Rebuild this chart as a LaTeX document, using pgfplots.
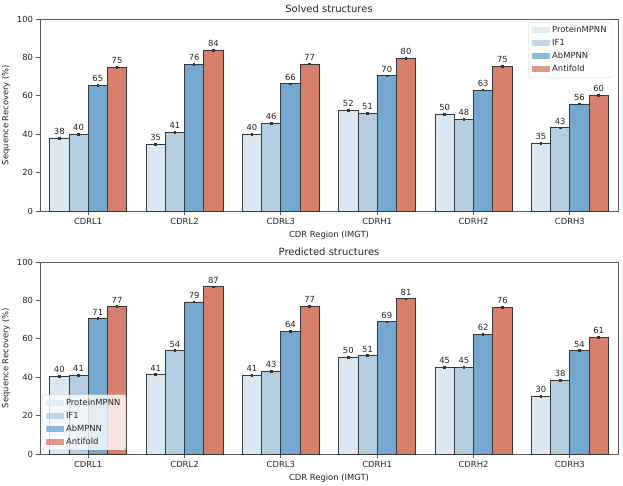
\documentclass[border=0pt]{standalone}
\usepackage{fontspec}
\setmainfont{DejaVu Sans}
\usepackage{pgfplots}
\pgfplotsset{compat=1.18}
\usepackage{pgfplotstable}

\definecolor{cProt}{HTML}{DBE7F1}
\definecolor{cIF}{HTML}{B3CDE1}
\definecolor{cAb}{HTML}{74A9CF}
\definecolor{cAnti}{HTML}{D6806B}
\definecolor{axgray}{HTML}{5A5A5A}
\definecolor{txt}{HTML}{262626}

% x: 0=CDRL1 ... 5=CDRH3
\pgfplotstableread{
x  prot  protE  if    ifE  ab    abE  anti  antiE
0  37.9  0.4    39.9  0.4  65.4  0.4  74.8  0.4
1  34.8  0.4    40.9  0.5  76.3  0.4  83.6  0.4
2  40.0  0.4    45.6  0.4  66.3  0.4  76.6  0.4
3  52.3  0.4    50.7  0.4  70.4  0.4  79.6  0.4
4  50.2  0.4    47.8  0.4  63.0  0.4  75.4  0.4
5  35.2  0.5    43.4  0.4  55.8  0.4  60.3  0.4
}\solved

\pgfplotstableread{
x  prot  protE  if    ifE  ab    abE  anti  antiE
0  40.4  0.5    41.0  0.5  70.5  0.5  76.7  0.5
1  41.3  0.5    53.8  0.5  79.2  0.5  87.1  0.4
2  40.9  0.5    43.2  0.5  63.8  0.5  77.0  0.5
3  50.4  0.5    51.2  0.5  68.9  0.4  80.9  0.4
4  45.0  0.4    45.0  0.4  62.2  0.4  76.3  0.4
5  30.0  0.4    38.2  0.4  53.8  0.5  60.6  0.4
}\predicted

% one category = 578pt/6 = 96.33pt, a bar = 0.2 of it
\pgfplotsset{
  /pgf/number format/assume math mode=true,
  recbar/.style={
    draw=black!78, line width=0.7pt,
    error bars/y dir=both, error bars/y explicit,
    error bars/error bar style={black!80, line width=1pt},
    error bars/error mark options={rotate=90, mark size=1.3pt, black!80, line width=0.8pt},
  },
  panel/.style={
    scale only axis, width=578pt, height=192pt,
    ybar=0pt, bar width=19.27pt,
    nodes near coords={\pgfmathprintnumber[fixed,precision=0]{\pgfplotspointmeta}},
    nodes near coords style={font=\fontsize{8.4}{10}\selectfont, text=txt, inner sep=2pt, yshift=1.2pt},
    xmin=-0.5, xmax=5.5, ymin=0, ymax=100,
    xtick={0,...,5},
    xticklabels={CDRL1,CDRL2,CDRL3,CDRH1,CDRH2,CDRH3},
    ytick={0,20,...,100},
    tick align=outside, tick pos=left,
    axis line style={axgray, line width=0.9pt},
    major tick style={axgray, line width=0.8pt},
    major tick length=3.5pt,
    tick label style={font=\fontsize{8.4}{10}\selectfont, text=txt},
    label style={font=\fontsize{8.4}{10}\selectfont, text=txt},
    title style={font=\fontsize{10}{12}\selectfont, text=txt, yshift=-3.5pt},
    xlabel={CDR Region (IMGT)},
    ylabel={Sequence Recovery (\%)},
    legend image code/.code={\fill[#1, draw=none, sharp corners] (0pt,-3pt) rectangle (18pt,3pt);},
    legend style={draw=black!20, fill=white, fill opacity=0.8, text opacity=1,
      rounded corners=2pt, font=\fontsize{8.4}{10}\selectfont, text=txt,
      cells={anchor=west}, row sep=1.3pt, inner xsep=3.5pt, inner ysep=2pt},
  },
}

\begin{document}
\begin{tikzpicture}
\useasboundingbox (0,0) rectangle (623pt,485pt);

\begin{axis}[panel, at={(40pt,274pt)}, anchor=south west,
  title={Solved structures},
  legend style={at={(0.99,0.985)}, anchor=north east}]
\addplot[recbar, fill=cProt] table[x=x, y=prot, y error=protE] {\solved};
\addplot[recbar, fill=cIF] table[x=x, y=if, y error=ifE] {\solved};
\addplot[recbar, fill=cAb] table[x=x, y=ab, y error=abE] {\solved};
\addplot[recbar, fill=cAnti] table[x=x, y=anti, y error=antiE] {\solved};
\legend{ProteinMPNN, IF1, AbMPNN, Antifold}
\end{axis}

\begin{axis}[panel, at={(40pt,31pt)}, anchor=south west,
  title={Predicted structures},
  legend style={at={(0.004,0.02)}, anchor=south west}]
\addplot[recbar, fill=cProt] table[x=x, y=prot, y error=protE] {\predicted};
\addplot[recbar, fill=cIF] table[x=x, y=if, y error=ifE] {\predicted};
\addplot[recbar, fill=cAb] table[x=x, y=ab, y error=abE] {\predicted};
\addplot[recbar, fill=cAnti] table[x=x, y=anti, y error=antiE] {\predicted};
\legend{ProteinMPNN, IF1, AbMPNN, Antifold}
\end{axis}
\end{tikzpicture}
\end{document}
